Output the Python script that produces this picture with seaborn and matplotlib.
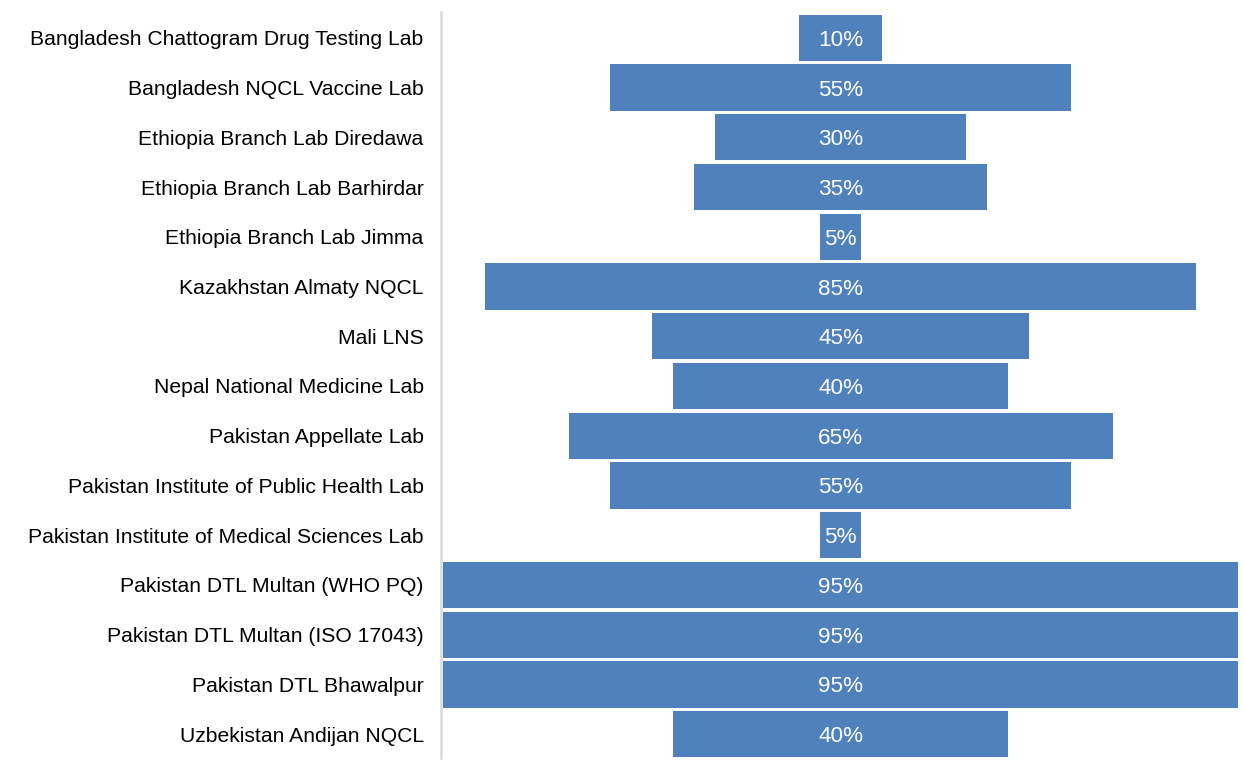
import pandas as pd
import numpy as np
import seaborn as sns
import matplotlib.pyplot as plt

labs = ['Bangladesh Chattogram Drug Testing Lab', 'Bangladesh NQCL Vaccine Lab',
        'Ethiopia Branch Lab Diredawa', 'Ethiopia Branch Lab Barhirdar',
        'Ethiopia Branch Lab Jimma', 'Kazakhstan Almaty NQCL', 'Mali LNS',
        'Nepal National Medicine Lab', 'Pakistan Appellate Lab',
        'Pakistan Institute of Public Health Lab',
        'Pakistan Institute of Medical Sciences Lab',
        'Pakistan DTL Multan (WHO PQ)', 'Pakistan DTL Multan (ISO 17043)',
        'Pakistan DTL Bhawalpur', 'Uzbekistan Andijan NQCL']
pct = [10, 55, 30, 35, 5, 85, 45, 40, 65, 55, 5, 95, 95, 95, 40]

df = pd.DataFrame({'lab': labs, 'pct': pct})
df['half'] = df['pct'] / 2
df['neg'] = -df['half']

sns.set_style('white')
plt.rcParams['font.family'] = ['Liberation Sans', 'DejaVu Sans']

fig = plt.figure(figsize=(12.44, 7.68), dpi=100)
ax = fig.add_axes([441 / 1244, 10 / 768, 803 / 1244, 746 / 768])

# funnel: two halves drawn from the centre
sns.barplot(data=df, x='half', y='lab', orient='h', color='#4f81bd',
            saturation=1, width=0.93, linewidth=0, ax=ax)
sns.barplot(data=df, x='neg', y='lab', orient='h', color='#4f81bd',
            saturation=1, width=0.93, linewidth=0, ax=ax)

for i, v in enumerate(df['pct']):
    ax.text(0, i, f'{v}%', ha='center', va='center_baseline', color='white', fontsize=16.2)

ax.set_xlim(-47.74, 48.2)
ax.set_ylim(14.48, -0.52)
ax.set_xlabel('')
ax.set_ylabel('')
ax.set_xticks([])
ax.tick_params(axis='y', length=0, pad=12.5, labelsize=15.2, labelcolor='black')
for s in ['top', 'right', 'bottom']:
    ax.spines[s].set_visible(False)
ax.spines['left'].set_color('#d9d9d9')
ax.spines['left'].set_linewidth(1.8)

fig.savefig('out.png', dpi=100)
